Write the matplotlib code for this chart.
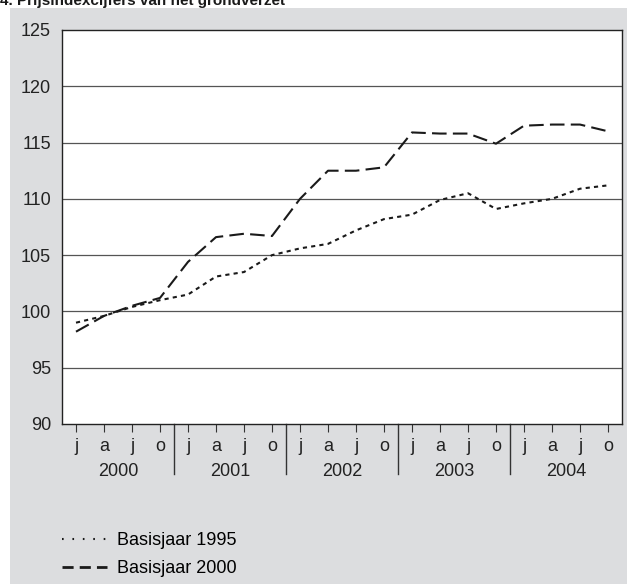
import numpy as np
import matplotlib
matplotlib.use('Agg')
import matplotlib.pyplot as plt
from matplotlib.patches import Rectangle
from matplotlib.lines import Line2D
import matplotlib.transforms as mtransforms

plt.rcParams['font.family'] = ['Liberation Sans', 'DejaVu Sans']

years = ['2000', '2001', '2002', '2003', '2004']
quarters = ['j', 'a', 'j', 'o']
series_names = ['Basisjaar 1995', 'Basisjaar 2000']

# Prijsindex, per kwartaal
basis_1995 = [99.0, 99.6, 100.4, 101.0,
              101.5, 103.1, 103.5, 105.0,
              105.6, 106.0, 107.2, 108.2,
              108.6, 109.9, 110.5, 109.1,
              109.6, 110.0, 110.9, 111.2]
basis_2000 = [98.2, 99.6, 100.5, 101.2,
              104.4, 106.6, 106.9, 106.7,
              110.0, 112.5, 112.5, 112.8,
              115.9, 115.8, 115.8, 114.9,
              116.5, 116.6, 116.6, 116.0]

W, H = 627, 584
fig = plt.figure(figsize=(W / 100, H / 100), dpi=100)
fig.patch.set_facecolor('white')

# grijze achtergrond
fig.patches.append(Rectangle((10 / W, 0), 1, 1 - 8 / H, transform=fig.transFigure,
                             facecolor='#dcdddf', edgecolor='none', zorder=-10))

fig.text(0 / W, 1 - 4.5 / H, '4. Prijsindexcijfers van het grondverzet',
         fontsize=11, fontweight='bold', va='baseline', ha='left', color='#1a1a1a')

ax = fig.add_axes([62 / W, 1 - 424 / H, 560 / W, 394 / H])
ax.set_zorder(1)
ax.set_facecolor('white')

x = np.arange(len(basis_1995))
ax.plot(x, basis_1995, color='#1a1a1a', lw=1.5, linestyle=(0, (2, 2)), zorder=3)
ax.plot(x, basis_2000, color='#1a1a1a', lw=1.5, linestyle=(0, (7, 3)), zorder=3)

ax.set_xlim(-0.5, len(x) - 0.5)
ax.set_ylim(90, 125)
ax.set_yticks(np.arange(90, 126, 5))
for v in np.arange(95, 125, 5):
    ax.axhline(v, color='#555555', lw=0.9, zorder=1)

ax.set_xticks(x)
ax.set_xticklabels(quarters * len(years))
ax.tick_params(axis='x', length=6, width=0.8, color='#333333', pad=4,
               labelsize=13, labelcolor='#222222')
ax.tick_params(axis='y', length=0, pad=8, labelsize=13, labelcolor='#222222')
for s in ax.spines.values():
    s.set_color('#222222')
    s.set_linewidth(1.0)

trans = mtransforms.blended_transform_factory(ax.transData, ax.transAxes)
for i, yr in enumerate(years):
    ax.text(i * 4 + 1.5, -47 / 394, yr, transform=trans, ha='center', va='center',
            fontsize=13, color='#222222')
    if i > 0:
        ax.plot([i * 4 - 0.5, i * 4 - 0.5], [0, -50 / 394], transform=trans,
                color='#333333', lw=1.0, clip_on=False)

# legenda met eigen symbolen zoals in het origineel
handles = [Line2D([], [], color='#1a1a1a', lw=1.5, linestyle=(0, (0.8, 4.2))),
           Line2D([], [], color='#1a1a1a', lw=2.0, linestyle=(0, (4, 2.2)))]
ax.legend(handles, series_names, loc='upper left',
          bbox_to_anchor=(62 / W, 1 - 532 / H),
          bbox_transform=fig.transFigure, frameon=False, fontsize=13,
          handlelength=2.5, handletextpad=0.55, labelspacing=0.6,
          borderaxespad=0, borderpad=0)

fig.savefig('out.png', dpi=100, facecolor=fig.get_facecolor())
